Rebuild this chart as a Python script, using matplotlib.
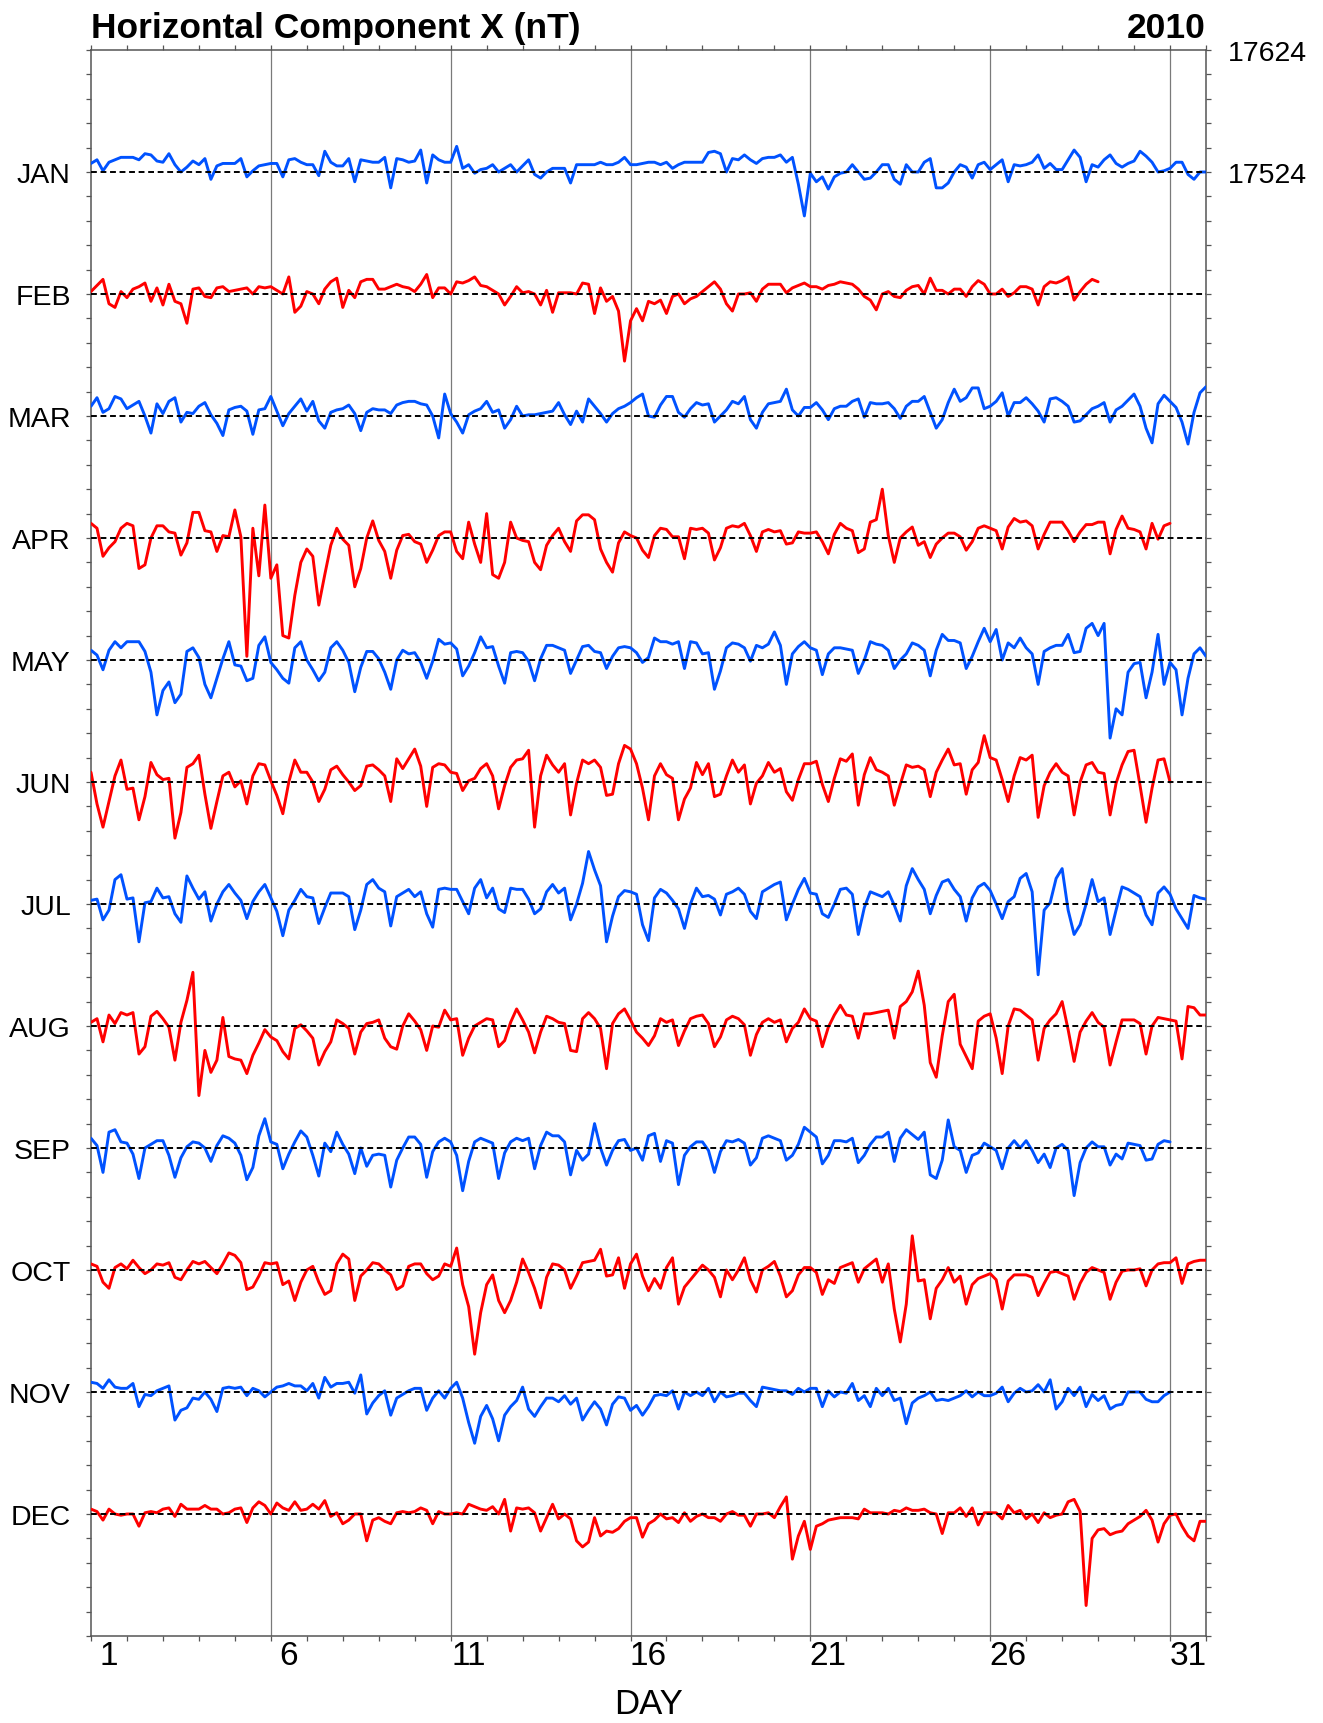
import numpy as np
import matplotlib
matplotlib.use("Agg")
import matplotlib.pyplot as plt

plt.rcParams["font.family"] = ["Liberation Sans", "DejaVu Sans"]

# Horizontal component X, 2010: deviations (nT) from each month's reference
# level, sampled every 4 hours (6 samples per day), last value closes the month.
MONTHS = ["JAN", "FEB", "MAR", "APR", "MAY", "JUN",
          "JUL", "AUG", "SEP", "OCT", "NOV", "DEC"]
JAN_LEVEL = 17524          # reference level of the January trace (nT)
MONTH_STEP = 100           # vertical separation between monthly traces (nT)
SAMPLES_PER_DAY = 6
RIGHT_TICKS = [17624, 17524]
DAY_LABELS = [1, 6, 11, 16, 21, 26, 31]
GRID_DAYS = [5, 10, 15, 20, 25, 30]

JAN = [7, 10, 1, 8, 10, 12,   12, 12, 10, 15, 14, 9,   8, 15, 6, 0, 4, 9,
       6, 11, -6, 5, 7, 7,    7, 11, -4, 1, 5, 6,      7, 7, -4, 10, 11, 8,
       6, 6, -3, 17, 8, 5,    5, 11, -8, 10, 9, 8,     8, 12, -13, 11, 10, 8,
       9, 18, -9, 14, 10, 8,  8, 21, 3, 6, -1, 2,      3, 6, 0, 3, 6, 0,
       5, 10, -2, -5, 0, 3,   3, 3, -9, 6, 6, 6,       6, 8, 6, 6, 8, 12,
       6, 6, 7, 8, 8, 6,      8, 3, 6, 8, 8, 8,        8, 16, 17, 15, 0, 11,
       10, 14, 10, 7, 11, 12, 12, 14, 8, 12, -10, -36, -1, -8, -4, -14, -4, -1,
       0, 6, 0, -6, -5, 0,    6, 6, -6, -10, 6, 0,     0, 8, 11, -13, -13, -9,
       0, 6, 4, -5, 6, 8,     2, 6, 10, -8, 6, 5,      6, 8, 14, 3, 7, 2,
       2, 10, 18, 12, -8, 6,  4, 10, 14, 7, 4, 7,      9, 17, 13, 8, 0, 1,
       3, 8, 8, -2, -6, 0,    0]

FEB = [2, 7, 12, -8, -11, 2,  -3, 4, 6, 9, -6, 5,    -9, 8, -6, -8, -24, 4,
       5, -2, -3, 5, 6, 2,    3, 4, 5, 0, 6, 5,        6, 3, 0, 14, -15, -10,
       2, 0, -8, 4, 10, 13,   -11, 3, -3, 10, 12, 12,  4, 4, 6, 8, 6, 5,
       2, 8, 16, -3, 5, 5,    0, 10, 9, 11, 14, 7,     6, 3, 0, -9, -2, 6,
       1, 2, 0, -9, 3, -15,   1, 1, 1, 0, 9, 8,        -16, 5, -6, -2, -14, -55,
       -22, -12, -22, -6, -8, -5, -16, -2, 0, -8, -4, -2, 2, 6, 10, 4, -8, -14,
       0, 0, 1, -6, 4, 8,     8, 8, 1, 5, 7, 9,        6, 6, 4, 7, 8, 10,
       9, 8, 4, -2, -5, -13,  0, 2, -2, -3, 3, 6,      7, 0, 13, 3, 3, 0,
       4, 4, -2, 6, 11, 8,    0, 0, 4, -2, 1, 6,       6, 4, -9, 6, 10, 9,
       11, 14, -5, 2, 8, 12,  10]

MAR = [8, 15, 3, 6, 16, 14,   6, 9, 12, 0, -14, 10,  2, 12, 15, -5, 3, 2,
       8, 11, 1, -6, -16, 5,  7, 8, 4, -15, 5, 6,      16, 4, -8, 2, 8, 14,
       4, 12, -4, -10, 3, 5,  6, 9, 2, -12, 3, 6,      5, 5, 2, 9, 11, 12,
       12, 10, 9, 0, -18, 18, 2, -5, -14, 1, 4, 6,     12, 3, 5, -10, -3, 8,
       0, 1, 1, 2, 3, 4,      11, 1, -7, 4, -5, 14,    8, 2, -5, 2, 6, 8,
       11, 15, 18, 0, -1, 9,  16, 16, 3, -1, 6, 11,    9, 10, -5, 0, 5, 12,
       10, 16, -3, -10, 3, 10, 11, 12, 22, 5, 0, 7,    7, 11, 5, -3, 6, 8,
       8, 12, 14, -1, 11, 10, 10, 11, 6, -2, 8, 12,    12, 16, 3, -10, -3, 11,
       22, 12, 15, 23, 23, 6, 8, 12, 19, 0, 11, 11,    15, 10, 4, -5, 14, 15,
       12, 8, -5, -4, 1, 6,   8, 11, -5, 5, 8, 13,     18, 8, -10, -22, 10, 17,
       12, 7, -5, -23, 3, 19, 24]

APR = [12, 8, -15, -8, -3, 8,    12, 10, -25, -22, 0, 10,  10, 5, 4, -14, -4, 21,
       21, 6, 5, -11, 2, 1,      23, 1, -97, 8, -31, 27,    -33, -22, -80, -82, -47, -20,
       -9, -15, -55, -30, -6, 8, -1, -6, -40, -25, 0, 14,   -2, -11, -33, -10, 2, 3,
       -3, -5, -20, -10, 2, 5,   5, -11, -17, 13, -5, -20,  20, -30, -33, -20, 13, 0,
       -2, -3, -20, -26, -6, 2,  8, -3, -11, 14, 19, 19,    15, -9, -20, -28, -4, 5,
       2, 0, -10, -16, 2, 8,     7, 1, 1, -17, 8, 7,        8, 4, -18, -8, 8, 10,
       9, 12, 2, -11, 5, 7,      5, 6, -5, -4, 5, 4,        4, 5, -3, -13, 3, 12,
       8, 6, -12, -9, 13, 15,    40, 2, -20, 0, 5, 9,       -6, -3, -16, -5, 0, 4,
       4, 1, -10, -3, 8, 10,     8, 6, -9, 9, 16, 13,       14, 10, -9, 3, 13, 13,
       13, 6, -3, 5, 11, 11,     13, 13, -13, 7, 18, 8,     7, 5, -9, 12, -1, 10,
       12]

MAY = [8, 4, -8, 8, 15, 10,      15, 15, 15, 7, -10, -45,   -25, -18, -35, -28, 7, 10,
       2, -20, -31, -15, 1, 15,  -4, -5, -17, -15, 12, 19,  -2, -8, -15, -19, 10, 15,
       0, -8, -17, -10, 10, 15,  8, -2, -26, -6, 7, 7,      1, -10, -24, 0, 8, 5,
       6, -2, -15, -1, 17, 13,   14, 9, -13, -5, 6, 19,     10, 11, -5, -19, 6, 7,
       6, -1, -17, 1, 12, 12,    10, 8, -11, 0, 11, 12,     7, 6, -7, 3, 10, 11,
       10, 6, -2, 2, 18, 15,     15, 13, 15, -7, 15, 14,    5, 6, -24, -9, 10, 14,
       13, 10, -1, 12, 10, 13,   23, 12, -20, 5, 11, 15,    10, 8, -12, 5, 10, 10,
       9, 8, -11, 0, 15, 13,     12, 8, -7, 0, 5, 14,       12, 8, -13, 8, 21, 16,
       16, 14, -7, 3, 15, 26,    15, 25, 0, 14, 10, 18,     10, 5, -20, 7, 10, 12,
       12, 21, 6, 7, 26, 30,     20, 30, -64, -40, -45, -10, -3, -2, -31, -10, 21, -20,
       -2, -8, -45, -15, 5, 10,  3]

JUN = [8, -18, -37, -16, 5, 18,  -6, -5, -31, -12, 16, 6,   2, 3, -46, -25, 12, 15,
       22, -10, -38, -16, 5, 8,  -4, 1, -18, 5, 15, 14,     1, -11, -26, 0, 18, 8,
       8, 0, -16, -6, 10, 13,    6, 0, -7, -3, 13, 14,      10, 5, -16, 19, 11, 19,
       27, 13, -20, 12, 15, 14,  8, 7, -7, 1, 3, 11,        15, 5, -22, -3, 12, 18,
       19, 26, -37, 5, 22, 14,   8, 15, -27, -1, 18, 15,    18, 12, -11, -10, 15, 30,
       27, 15, -5, -31, 5, 15,   6, 3, -31, -14, -5, 16,    6, 15, -12, -10, 5, 18,
       8, 14, -18, -1, 5, 16,    8, 11, -8, -15, 2, 15,     15, 17, -2, -16, 3, 19,
       17, 23, -19, 6, 20, 10,   8, 5, -19, -2, 14, 12,     13, 10, -12, 8, 18, 27,
       14, 15, -10, 10, 16, 38,  20, 18, 2, -16, 5, 20,     18, 22, -29, -3, 8, 15,
       8, 5, -27, 0, 14, 16,     8, 7, -27, -1, 14, 25,     26, -3, -33, -5, 18, 19,
       0]

JUL = [3, 4, -13, -5, 20, 24,    4, 5, -31, 1, 2, 13,       5, 6, -8, -15, 23, 13,
       4, 10, -14, 0, 10, 16,    9, 3, -12, 2, 10, 16,      5, -6, -26, -5, 3, 12,
       6, 5, -16, -3, 9, 9,      9, 6, -21, -5, 16, 20,     13, 10, -18, 6, 9, 12,
       6, 10, -8, -19, 12, 13,   12, 12, 2, -8, 13, 20,     5, 13, -4, -7, 13, 12,
       12, 4, -8, -4, 10, 16,    9, 13, -13, 0, 17, 43,     28, 15, -31, -10, 6, 11,
       10, 8, -17, -30, 5, 12,   9, 3, -4, -20, 0, 13,      6, 7, 4, -9, 8, 10,
       13, 8, -6, -12, 10, 13,   16, 18, -13, 0, 12, 21,    9, 8, -8, -11, 0, 12,
       13, 8, -25, -3, 10, 8,    6, 10, -1, -14, 15, 29,    20, 12, -8, 7, 18, 20,
       12, 6, -14, 5, 14, 17,    11, 0, -12, 2, 6, 21,      25, 10, -58, -5, 1, 21,
       29, -5, -25, -17, 0, 20,  2, 5, -25, -5, 14, 12,     9, 6, -9, -17, 9, 14,
       8, -4, -12, -20, 7, 5,    4]

AUG = [3, 6, -13, 9, 2, 11,      9, 11, -23, -17, 8, 12,    6, -1, -28, 3, 21, 44,
       -57, -20, -38, -28, 7, -25, -27, -28, -39, -24, -14, -3, -9, -12, -21, -27, -2, 1,
       -4, -10, -32, -21, -13, 5, 2, -2, -23, -5, 2, 3,     5, -10, -17, -19, 0, 10,
       4, -3, -20, 0, -1, 13,    5, 6, -24, -10, 0, 3,      6, 5, -17, -12, 3, 14,
       5, -5, -22, -5, 8, 6,     3, 2, -20, -21, 6, 11,     6, -2, -35, 2, 10, 14,
       5, -5, -10, -16, -8, 6,   3, 5, -16, -4, 6, 8,       9, 2, -17, -9, 5, 8,
       6, 1, -24, -7, 3, 6,      3, 5, -13, -2, 3, 14,      6, 4, -17, -1, 9, 17,
       9, 8, -10, 10, 10, 11,    12, 13, -10, 16, 20, 28,   45, 17, -30, -42, -8, 20,
       26, -15, -25, -35, 4, 8,  10, -10, -39, 0, 14, 13,   9, 5, -28, -2, 5, 10,
       20, -3, -29, -5, 4, 11,   3, -1, -32, -13, 5, 5,     5, 2, -23, 0, 7, 6,
       5, 4, -27, 16, 15, 9,     9]

SEP = [8, 2, -20, 13, 15, 5,     4, -5, -25, 0, 3, 6,       6, -6, -24, -8, 1, 5,
       4, 0, -11, 2, 10, 8,      4, -6, -26, -16, 10, 24,   5, 3, -17, -5, 5, 14,
       9, -6, -23, 4, -3, 13,    3, -5, -21, 0, -15, -6,    -5, -6, -32, -10, 0, 9,
       9, 3, -24, -3, 5, 8,      5, -6, -35, -11, 5, 8,     6, 4, -25, -4, 5, 8,
       6, 8, -17, 2, 13, 10,     10, 5, -22, -2, -10, -5,   20, 0, -14, -2, 6, 7,
       -2, 0, -10, 10, 12, -11,  6, 4, -30, -6, 1, 5,       5, -2, -20, -3, 6, 5,
       7, 4, -14, -8, 8, 10,     8, 6, -10, -6, 3, 17,      13, 9, -13, -6, 6, 6,
       5, 8, -12, -6, 3, 9,      9, 13, -11, 8, 15, 11,     7, 13, -22, -25, -10, 23,
       1, -2, -20, -6, -4, 4,    1, -2, -17, 0, 6, 0,       6, -2, -12, -5, -16, 0,
       3, -2, -39, -12, 0, 5,    1, 1, -14, -5, -9, 4,      3, 2, -10, -9, 3, 6,
       5]

OCT = [5, 3, -10, -15, 2, 5,     1, 8, 2, -3, 0, 5,         4, 6, -6, -8, 0, 7,
       5, 7, 2, -3, 5, 14,       12, 6, -16, -14, -5, 6,    5, 6, -12, -9, -25, -10,
       0, 3, -10, -20, -17, 5,   13, 9, -25, -5, 0, 6,      5, 0, -4, -16, -13, 3,
       5, 5, -3, -8, -5, 5,      3, 18, -12, -30, -69, -35, -12, -4, -25, -35, -25, -10,
       9, -2, -15, -31, -6, 5,   4, 0, -15, -5, 6, 7,       8, 17, -5, -4, 10, -15,
       5, 13, -5, -17, -7, -15,  2, 10, -28, -14, -8, -2,   4, 0, -6, -22, 0, -8,
       0, 10, -8, -18, 0, 3,     7, -5, -22, -17, -4, 2,    2, -2, -20, -8, -11, 2,
       4, 6, -10, 1, 5, 9,       -10, 5, -32, -59, -28, 28, -9, -8, -40, -15, -8, 2,
       -10, -5, -28, -12, -7, -5, -3, -8, -32, -9, -4, -4,  -4, -6, -21, -11, -2, -1,
       -3, -5, -24, -11, -2, 2,  0, -2, -24, -10, -1, 0,    0, 1, -13, 0, 5, 6,
       6, 10, -11, 5, 7, 8,      8]

NOV = [8, 7, 3, 10, 4, 3,        3, 7, -12, -2, -3, 1,      3, 5, -23, -15, -13, -5,
       -6, 0, -6, -16, 3, 4,     3, 4, -3, 3, 1, -4,        0, 4, 5, 7, 5, 5,
       1, 7, -5, 12, 4, 7,       7, 8, -1, 14, -18, -9,     -3, 1, -19, -5, -2, 1,
       3, 3, -15, -5, 1, -5,     3, 8, -5, -25, -42, -20,   -11, -22, -40, -19, -12, -7,
       4, -14, -20, -12, -5, -5, -8, -3, -10, -5, -23, -15, -8, -14, -27, -10, -4, -5,
       -15, -11, -19, -12, -3, -2, -3, 1, -14, 0, -3, 0,    -3, 3, -8, 0, -4, -3,
       -1, -1, -7, -12, 4, 3,    2, 1, 1, -2, 3, 0,         3, 3, -12, 1, -4, 0,
       -1, 7, -7, -3, -12, 3,    -3, 3, -7, -5, -26, -9,    -5, -3, 0, -7, -6, -7,
       -5, -3, 1, -4, 0, -3,     -3, -1, 4, -8, -1, 3,      0, 1, 6, 0, 10, -14,
       -8, 3, -3, 4, -12, -2,    -7, -3, -14, -11, -10, 0,  0, 0, -6, -8, -8, -3,
       0]

DEC = [4, 2, -5, 4, 0, -1,       0, 0, -10, 1, 2, 1,        4, 5, -2, 8, 4, 4,
       4, 7, 4, 4, 0, 1,         4, 5, -7, 5, 10, 7,        0, 9, 5, 3, 10, 3,
       4, 8, 4, 11, -2, 1,       -8, -5, 0, 0, -22, -5,     -3, -6, -8, 1, 2, 1,
       2, 5, 3, -8, 2, 0,        0, 1, 0, 8, 6, 4,          3, 6, 0, 12, -14, 5,
       4, 5, 1, -14, -3, 8,      -4, 0, -4, -22, -27, -23,  -3, -18, -14, -15, -12, -6,
       -3, -3, -19, -8, -5, 0,   -4, -3, -7, 1, -6, -2,     0, -3, -3, -6, 0, 2,
       -1, -1, -10, 0, 0, 1,     -3, 6, 14, -37, -18, -6,   -29, -10, -8, -5, -4, -3,
       -3, -3, -4, 4, 1, 1,      1, 0, 3, 2, 5, 3,          3, 4, 1, 0, -16, 1,
       1, 5, -2, 5, -9, 1,       1, 1, -4, 7, 1, 3,         -4, 0, -7, 1, -3, -1,
       0, 10, 12, 2, -75, -20,   -13, -12, -17, -15, -14, -8, -5, -2, 3, -5, -23, -8,
       -1, 0, -10, -18, -22, -6, -6]

SERIES = [JAN, FEB, MAR, APR, MAY, JUN, JUL, AUG, SEP, OCT, NOV, DEC]
TRACE_COLORS = ["#0052ff", "#ff0000"]

W, H = 1323, 1724
fig = plt.figure(figsize=(W / 100, H / 100), dpi=100)
ax_l, ax_r, ax_t, ax_b = 91, 1206, 51, 1637
ax = fig.add_axes([ax_l / W, 1 - ax_b / H, (ax_r - ax_l) / W, (ax_b - ax_t) / H])

levels = [JAN_LEVEL - MONTH_STEP * i for i in range(len(MONTHS))]
y_top = JAN_LEVEL + MONTH_STEP
y_bot = levels[-1] - MONTH_STEP

for i, (vals, level) in enumerate(zip(SERIES, levels)):
    v = np.asarray(vals, dtype=float)
    t = np.arange(v.size) / SAMPLES_PER_DAY
    ax.plot(t, level + v, color=TRACE_COLORS[i % 2], lw=2.1,
            solid_joinstyle="round", solid_capstyle="round", zorder=3)
    ax.axhline(level, color="black", lw=1.4, dashes=(3.0, 1.9), zorder=4)

for d in GRID_DAYS:
    ax.axvline(d, color="#7a7a7a", lw=0.9, zorder=1)

ax.set_xlim(0, 31)
ax.set_ylim(y_bot, y_top)

for s in ax.spines.values():
    s.set_color("#555555")
    s.set_linewidth(1.1)

# x axis: a tick at every day boundary, day numbers centred on the day
ax.set_xticks(np.arange(0, 32))
ax.set_xticklabels([])
ax.set_xticks([d - 0.5 for d in DAY_LABELS], minor=True)
ax.set_xticklabels([str(d) for d in DAY_LABELS], minor=True)
ax.tick_params(axis="x", which="major", direction="out", length=3.5,
               width=0.9, color="#555555", top=True, bottom=True)
ax.tick_params(axis="x", which="minor", length=0, pad=3, labelsize=24)

# y axis: month names at each trace level, small ticks every 20 nT
ax.set_yticks(levels)
ax.set_yticklabels(MONTHS)
ax.set_yticks(np.arange(y_bot, y_top + 1, 20), minor=True)
ax.tick_params(axis="y", which="both", direction="out", length=3.5,
               width=0.9, color="#555555", left=True, right=True)
ax.tick_params(axis="y", which="major", pad=11, labelsize=20.5)

ax2 = ax.twinx()
ax2.set_ylim(y_bot, y_top)
ax2.set_yticks(RIGHT_TICKS)
ax2.set_yticklabels([str(v) for v in RIGHT_TICKS])
ax2.set_yticks(np.arange(y_bot, y_top + 1, 20), minor=True)
ax2.tick_params(axis="y", which="both", direction="out", length=3.5,
                width=0.9, color="#555555")
ax2.tick_params(axis="y", which="major", pad=12, labelsize=20.5)
for s in ax2.spines.values():
    s.set_visible(False)

fig.text(ax_l / W, 1 - 38 / H, "Horizontal Component X (nT)", fontsize=25.5,
         fontweight="bold", ha="left", va="baseline")
fig.text(ax_r / W, 1 - 38 / H, "2010", fontsize=25.5, fontweight="bold",
         ha="right", va="baseline")
fig.text((ax_l + ax_r) / 2 / W, 1 - 1705 / H, "DAY", fontsize=25,
         ha="center", va="center")

fig.savefig("out.png", dpi=100)
